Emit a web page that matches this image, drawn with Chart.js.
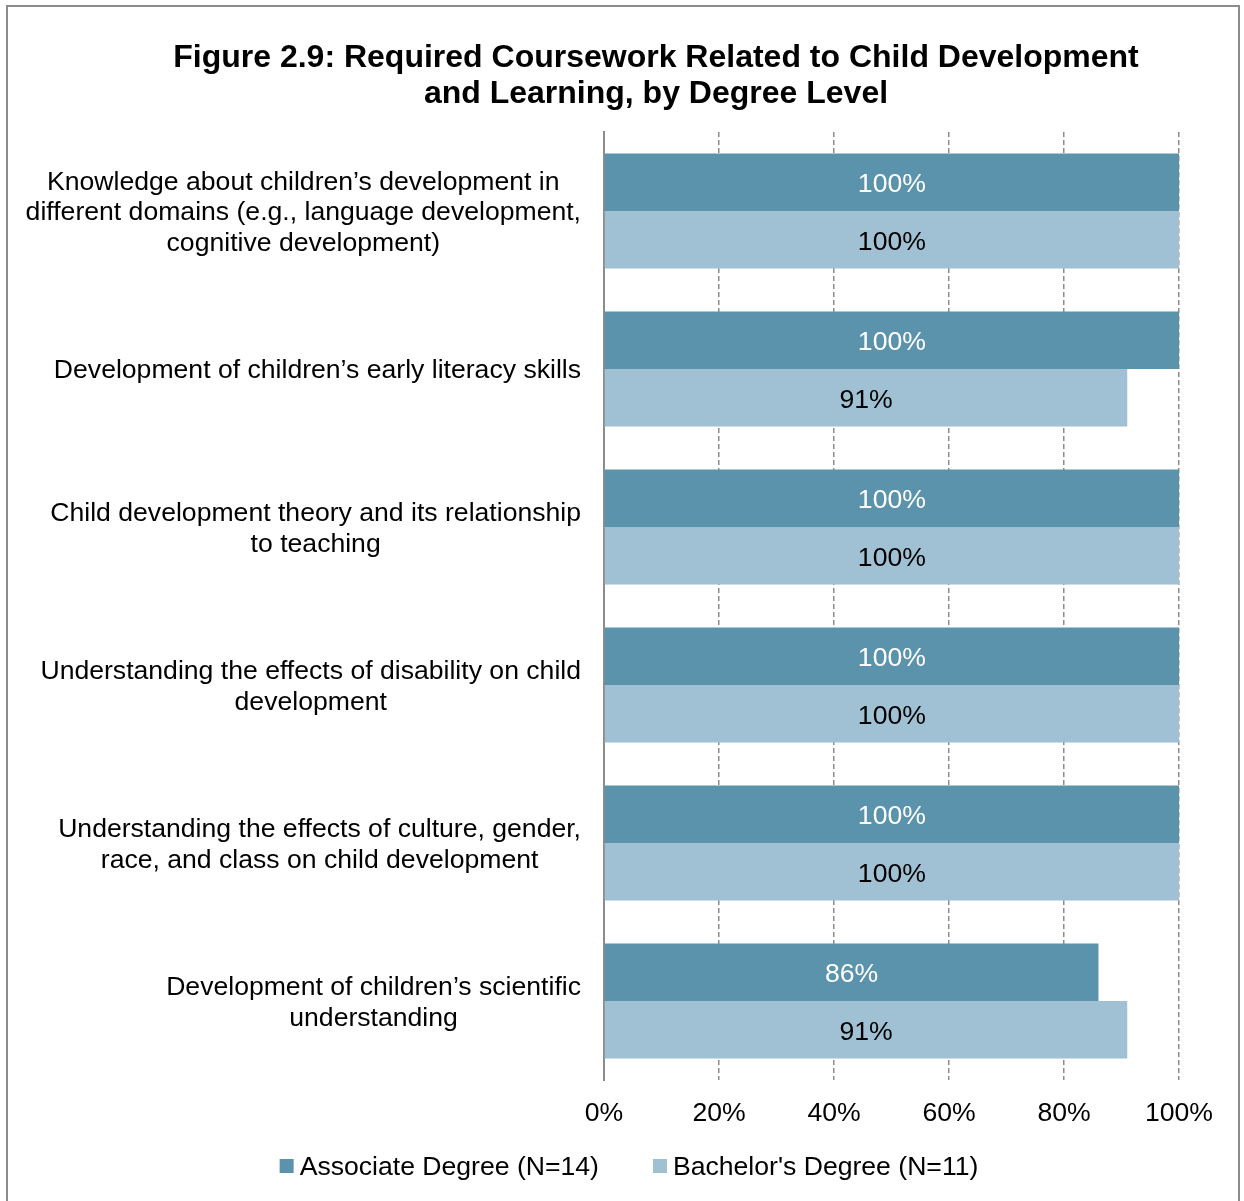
<!DOCTYPE html>
<html>
<head>
<meta charset="utf-8">
<title>Required Coursework Related to Child Development and Learning</title>
<script src="https://cdn.jsdelivr.net/npm/chart.js@4.4.0/dist/chart.umd.min.js"></script>
<style>
  html, body { margin: 0; padding: 0; background: #fff; width: 1244px; height: 1201px; overflow: hidden; }
  #frame { position: absolute; left: 6px; top: 5px; width: 1230px; height: 1230px; border: 2px solid #8c8c8c; }
  #chart { position: absolute; left: 0; top: 0; }
</style>
</head>
<body>
<div id="frame"></div>
<canvas id="chart" width="1244" height="1201"></canvas>
<script>
// Survey categories (each entry is a list of label lines)
const categories = [
  ['Knowledge about children\u2019s development in', 'different domains (e.g., language development,', 'cognitive development)'],
  ['Development of children\u2019s early literacy skills'],
  ['Child development theory and its relationship', 'to teaching'],
  ['Understanding the effects of disability on child', 'development'],
  ['Understanding the effects of culture, gender,', 'race, and class on child development'],
  ['Development of children\u2019s scientific', 'understanding']
];

// Percent of programs requiring the coursework
const associateValues = [100, 100, 100, 100, 100, 86];
const bachelorValues  = [100, 91, 100, 100, 100, 91];

const seriesNames = ['Associate Degree (N=14)', "Bachelor's Degree (N=11)"];
const xTickValues = [0, 20, 40, 60, 80, 100];
const titleLines = [
  'Figure 2.9: Required Coursework Related to Child Development',
  'and Learning, by Degree Level'
];

const DARK = '#5B93AD';
const LIGHT = '#A0C0D4';
const FAMILY = '"Liberation Sans", Arial, Helvetica, sans-serif';
const BODY_FONT = '26.6px ' + FAMILY;
const GRID = '#8c8c8c';

const decorations = {
  id: 'decorations',
  afterDatasetsDraw(chart) {
    // Value labels centred inside each bar
    const ctx = chart.ctx;
    ctx.save();
    ctx.font = BODY_FONT;
    ctx.textAlign = 'center';
    ctx.textBaseline = 'middle';
    chart.data.datasets.forEach((ds, di) => {
      const meta = chart.getDatasetMeta(di);
      meta.data.forEach((bar, i) => {
        ctx.fillStyle = di === 0 ? '#ffffff' : '#000000';
        ctx.fillText(ds.data[i] + '%', (bar.base + bar.x) / 2, bar.y + 2.5);
      });
    });
    ctx.restore();
  },
  afterDraw(chart) {
    const ctx = chart.ctx;
    const xScale = chart.scales.x;
    const yScale = chart.scales.y;
    const area = chart.chartArea;
    ctx.save();
    ctx.fillStyle = '#000';
    ctx.textBaseline = 'middle';
    ctx.textAlign = 'center';

    // Title
    ctx.font = 'bold 32px ' + FAMILY;
    titleLines.forEach((line, i) => ctx.fillText(line, 656, 58 + i * 36));

    // Category labels: each block sits against the axis, lines centred within it
    ctx.font = BODY_FONT;
    const lineH = 30.5;
    const rightEdge = area.left - 23;
    chart.data.labels.forEach((lines, i) => {
      const y = yScale.getPixelForValue(i);
      const widest = Math.max(...lines.map(l => ctx.measureText(l).width));
      const cx = rightEdge - widest / 2;
      lines.forEach((l, j) => {
        ctx.fillText(l, cx, y + (j - (lines.length - 1) / 2) * lineH + 2);
      });
    });

    // Percent tick labels under the axis
    xScale.ticks.forEach(t => {
      ctx.fillText(t.value + '%', xScale.getPixelForValue(t.value), area.bottom + 34);
    });

    // Legend
    const box = 14, gapText = 6, gapItem = 54;
    const widths = seriesNames.map(n => box + gapText + ctx.measureText(n).width);
    const total = widths[0] + gapItem + widths[1];
    let x = 629 - total / 2;
    const ly = 1166;
    ctx.textAlign = 'left';
    seriesNames.forEach((name, i) => {
      ctx.fillStyle = chart.data.datasets[i].backgroundColor;
      ctx.fillRect(x, ly - box / 2, box, box);
      ctx.fillStyle = '#000';
      ctx.fillText(name, x + box + gapText, ly + 2);
      x += widths[i] + gapItem;
    });
    ctx.restore();
  }
};

new Chart(document.getElementById('chart'), {
  type: 'bar',
  data: {
    labels: categories,
    datasets: [
      { label: seriesNames[0], data: associateValues, backgroundColor: DARK,
        barPercentage: 1, categoryPercentage: 0.728 },
      { label: seriesNames[1], data: bachelorValues, backgroundColor: LIGHT,
        barPercentage: 1, categoryPercentage: 0.728 }
    ]
  },
  options: {
    indexAxis: 'y',
    responsive: false,
    animation: false,
    layout: { padding: { left: 604, right: 65, top: 132, bottom: 121 } },
    plugins: {
      legend: { display: false },
      title: { display: false },
      tooltip: { enabled: false }
    },
    scales: {
      x: {
        min: 0,
        max: 100,
        afterBuildTicks: scale => { scale.ticks = xTickValues.map(v => ({ value: v })); },
        ticks: { display: false },
        grid: {
          color: c => (c.tick && c.tick.value === 0) ? 'rgba(0,0,0,0)' : GRID,
          lineWidth: 1.5,
          drawTicks: false
        },
        border: { display: false, dash: [5, 3] }
      },
      y: {
        ticks: { display: false },
        grid: { display: false, drawTicks: false },
        border: { display: true, color: GRID, width: 2 }
      }
    }
  },
  plugins: [decorations]
});
</script>
</body>
</html>
